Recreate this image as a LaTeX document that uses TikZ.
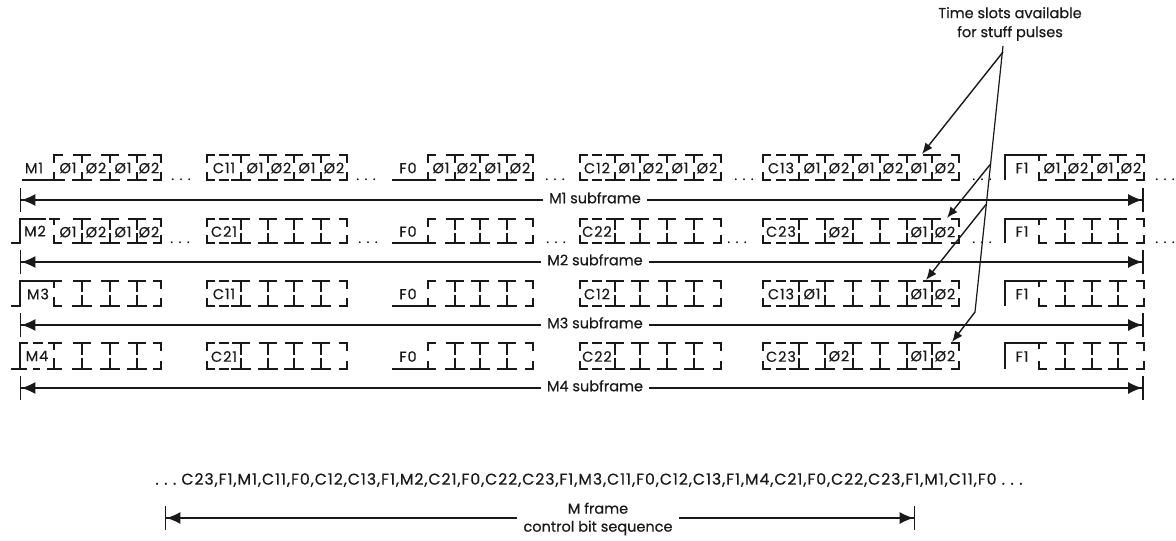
\documentclass[tikz,border=0pt]{standalone}
\usepackage{fontspec}
\setmainfont{Poppins}
\newfontfamily\pf[FakeBold=0.35]{Poppins}
\newfontfamily\pfw[FakeBold=0.35,LetterSpace=6]{Poppins}
\usetikzlibrary{arrows.meta}
\newcommand\ddd{.\hspace{5.5pt}.\hspace{5.5pt}.}
\newcommand\lbk[3]{\draw[wire] (#1+8,#2) -- (#1,#2) -- (#1,#2+8) (#1,#3-8) -- (#1,#3) -- (#1+8,#3);}
\newcommand\rbk[3]{\draw[wire] (#1-8,#2) -- (#1,#2) -- (#1,#2+8) (#1,#3-8) -- (#1,#3) -- (#1-8,#3);}
\newcommand\ibm[3]{\draw[wire] (#1-9,#2) -- (#1+9,#2) (#1,#2) -- (#1,#2+\Hh) (#1,#3-\Hh) -- (#1,#3) (#1-10,#3) -- (#1+10,#3);}
\newcommand\mdash[3]{\draw[wire] (#1-5,#2) -- (#1+5,#2) (#1-5,#3) -- (#1+5,#3);}
\newcommand\slotrow[3]{\foreach \x/\t in {#3} {\node[lbl] (#1-\x) at (\x,#2) {\t};}}
\tikzset{
  wire/.style={line width=1.4pt,black!90},
  lbl/.style={inner sep=0pt,font=\pfw\fontsize{14.5}{16}\selectfont,text=black!90},
  dots/.style={inner sep=0pt,font=\pf\fontsize{13}{14}\selectfont,text=black!90,anchor=base},
  sublabel/.style={inner sep=6pt,text height=10pt,text depth=3.5pt,font=\pf\fontsize{14.5}{16}\selectfont,text=black!90},
  dim/.style={line width=1.4pt,black!90,-{Latex[length=14pt,width=12pt]Bar[width=24pt,line width=1.4pt]}},
  lead/.style={line width=1.2pt,black!90},
  leadarrow/.style={line width=1.4pt,black!90,-{Latex[length=11pt,width=9pt]}}
}
\begin{document}
\begin{tikzpicture}[x=1pt,y=-1pt]
\fill[white] (0,0) rectangle (1176,541);
\useasboundingbox (0,0) rectangle (1176,541);
\foreach \r/\Tp/\Bt/\Ar/\Ca/\Cb/\Cc/\Hh in {1/155/180/200/C11/C12/C13/8,2/219/243/262/C21/C22/C23/10.5,3/281/306/325/C11/C12/C13/11,4/343/369/388/C21/C22/C23/11.5}{
  \pgfmathsetmacro\Ym{(\Tp+\Bt)/2+0.5}
  % M group common
  \foreach \x in {82,110,137} {\ibm{\x}{\Tp}{\Bt}}
  \rbk{161}{\Tp}{\Bt}
  % C1 group
  \lbk{207}{\Tp}{\Bt} \mdash{224}{\Tp}{\Bt}
  \foreach \x in {241,268,294,321} {\ibm{\x}{\Tp}{\Bt}}
  \rbk{347}{\Tp}{\Bt}
  \node[lbl] (c\r a) at (224,\Ym) {\Ca};
  % F0 group
  \draw[wire] (392,\Bt) -- (436,\Bt) (428,\Bt) -- (428,\Bt-8) (428,\Tp+8) -- (428,\Tp) -- (436,\Tp);
  \foreach \x in {455,480,507} {\ibm{\x}{\Tp}{\Bt}}
  \rbk{533}{\Tp}{\Bt}
  \node[lbl] (f\r) at (408,\Ym) {F0};
  % C2 group
  \lbk{580}{\Tp}{\Bt} \mdash{597}{\Tp}{\Bt}
  \foreach \x in {615,640,667,694} {\ibm{\x}{\Tp}{\Bt}}
  \rbk{721}{\Tp}{\Bt}
  \node[lbl] (c\r b) at (597,\Ym) {\Cb};
  % C3 group
  \lbk{763}{\Tp}{\Bt} \mdash{781}{\Tp}{\Bt}
  \foreach \x in {799,825,853,880,907,932} {\ibm{\x}{\Tp}{\Bt}}
  \rbk{959}{\Tp}{\Bt}
  \node[lbl] (c\r c) at (781,\Ym) {\Cc};
  % F1 group
  \draw[wire] (1005,\Bt) -- (1005,\Tp) -- (1047,\Tp) (1039,\Tp) -- (1039,\Tp+6) (1039,\Bt-8) -- (1039,\Bt) -- (1047,\Bt);
  \foreach \x in {1065,1092,1118} {\ibm{\x}{\Tp}{\Bt}}
  \rbk{1144}{\Tp}{\Bt}
  \node[lbl] (g\r) at (1022,\Ym) {F1};
  % subframe dimension line
  \coordinate (L\r) at (20,\Ar);
  \coordinate (R\r) at (1143.5,\Ar);
  \node[sublabel] (s\r) at (595,\Ar) {M\r\ subframe};
  \draw[dim] (s\r) -- (L\r);
  \draw[dim] (s\r) -- (R\r);
}
% M boxes, each row differs
\draw[wire] (22,180) -- (65,180) (54,180) -- (54,172) (54,163) -- (54,155) -- (63,155);
\node[lbl] (m1) at (34,168) {M1};
\draw[wire] (11,243) -- (20,243) -- (20,219) -- (46,219) (49,219) -- (60,219) (54,219) -- (54,225) (54,235) -- (54,243) -- (62,243);
\node[lbl] (m2) at (35,231) {M2};
\draw[wire] (11,306) -- (20,306) -- (20,281) -- (62,281) (54,281) -- (54,288) (54,297) -- (54,306) -- (62,306);
\node[lbl] (m3) at (38,294) {M3};
\draw[wire] (11,369) -- (27,369) (20,369) -- (20,343) -- (28,343) (33,343) -- (43,343) (48,343) -- (62,343) (54,343) -- (54,350) (54,358) -- (54,369) (47,369) -- (62,369) (33,369) -- (40,369);
\node[lbl] (m4) at (37,356) {M4};
% slot labels
\slotrow{a}{168}{68/Ø1,96/Ø2,123/Ø1,149/Ø2,255/Ø1,281/Ø2,307/Ø1,334/Ø2,441/Ø1,467/Ø2,493/Ø1,520/Ø2,627/Ø1,653/Ø2,680/Ø1,707/Ø2,812/Ø1,839/Ø2,866/Ø1,893/Ø2,919/Ø1,945/Ø2,1052/Ø1,1078/Ø2,1105/Ø1,1131/Ø2}
\slotrow{b}{232}{68/Ø1,96/Ø2,123/Ø1,149/Ø2,839/Ø2,919/Ø1,945/Ø2}
\slotrow{c}{294}{812/Ø1,919/Ø1,945/Ø2}
\slotrow{d}{356}{839/Ø2,919/Ø1,945/Ø2}
% continuation dots
\foreach \n/\x/\y in {a/181/180,b/366/180,c/555/180,d/744/180,e/982/180,f/1165/180,g/180/243,h/368/243,i/556/243,j/737/243,k/982/243,l/1165/243}{
  \node[dots] (dot\n) at (\x,\y) {\ddd};
}
% callout
\node[inner sep=0pt,align=center,font=\pf\fontsize{14.5}{19}\selectfont,text=black!90] (callout) at (1010,24) {Time slots available\\for stuff pulses};
\coordinate (apex) at (1003,46);
\coordinate (kink) at (975,312);
\coordinate (b1) at (990.6,164);
\coordinate (b2) at (986.4,204);
\coordinate (apexb) at (1003,52);
\coordinate (t0) at (922,154);
\coordinate (t1) at (947,218);
\coordinate (t2) at (926,280);
\coordinate (t3) at (952,342);
\draw[lead] (apex) -- (kink);
\draw[leadarrow] (apexb) -- (t0);
\draw[leadarrow] (b1) -- (t1);
\draw[leadarrow] (b2) -- (t2);
\draw[leadarrow] (kink) -- (t3);
% sequence
\node[inner sep=0pt,font=\pfw\fontsize{15.7}{18}\selectfont,text=black!90] (seq) at (589,480) {\ddd\ C23,F1,M1,C11,F0,C12,C13,F1,M2,C21,F0,C22,C23,F1,M3,C11,F0,C12,C13,F1,M4,C21,F0,C22,C23,F1,M1,C11,F0 \ddd};
\node[inner sep=6pt,align=center,font=\pf\fontsize{14.5}{18}\selectfont,text=black!90] (mf) at (598,519) {M frame\\control bit sequence};
\coordinate (ML) at (165,518);
\coordinate (MR) at (915,518);
\draw[dim] (mf.west |- ML) -- (ML);
\draw[dim] (mf.east |- MR) -- (MR);
\end{tikzpicture}
\end{document}
